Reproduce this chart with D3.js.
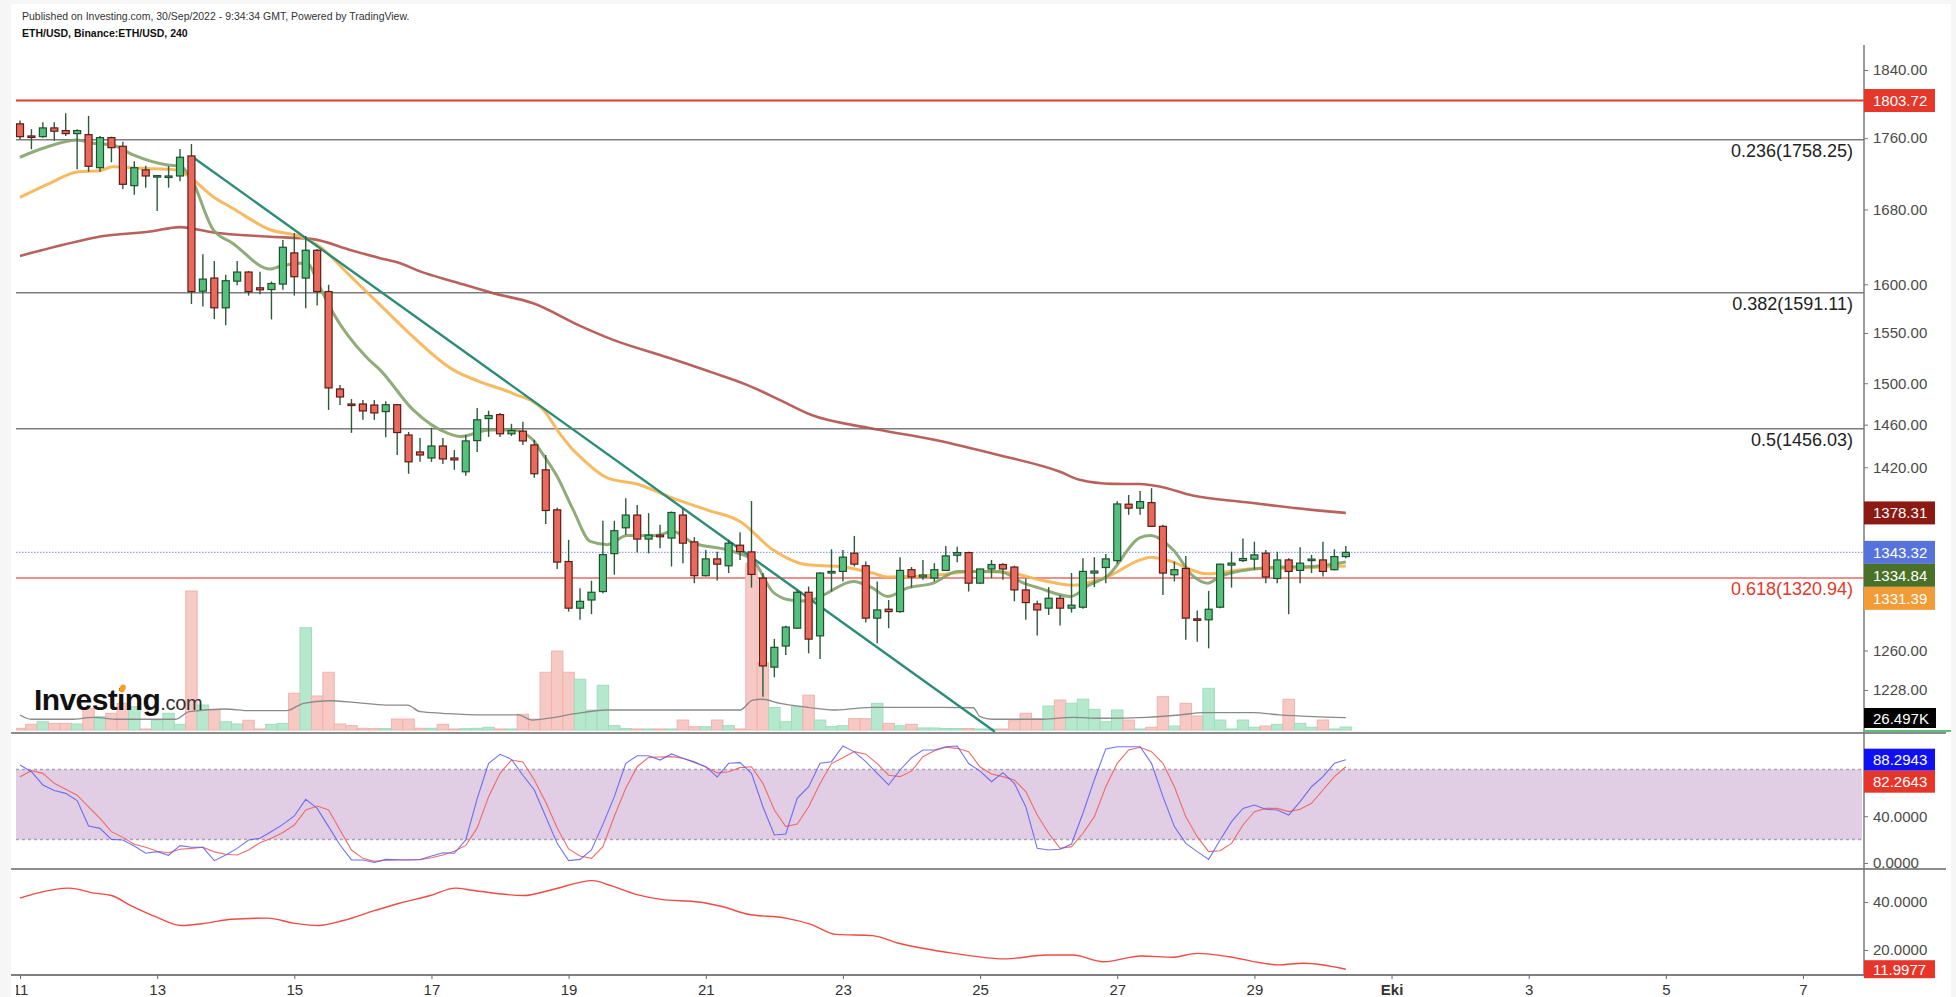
<!DOCTYPE html>
<html><head><meta charset="utf-8">
<script src="https://cdn.jsdelivr.net/npm/d3@7"></script>
<style>
html,body{margin:0;padding:0;background:#f6f6f6;}
svg{display:block;}
text{font-family:"Liberation Sans",Arial,sans-serif;}
</style></head><body><svg id="c" width="1956" height="997"></svg>
<script>
// ---------------- DATA ----------------
const opens=[1776.5,1762.5,1761.7,1771.8,1768.7,1765.2,1764.0,1726.4,1760.6,1750.7,
1706.3,1723.9,1716.9,1715.4,1717.1,1739.7,1592.8,1606.5,1575.6,1603.3,
1612.8,1596.3,1594.5,1600.2,1633.1,1606.5,1635.9,1592.4,1494.4,1479.8,
1479.8,1478.8,1472.5,1479.1,1450.2,1434.2,1428.6,1439.8,1428.6,1415.8,
1444.9,1465.8,1469.6,1451.3,1453.8,1440.8,1417.6,1381.1,1335.3,1295.3,
1302.2,1309.4,1342.2,1365.0,1376.4,1355.0,1358.5,1355.9,1376.4,1352.5,
1323.0,1337.6,1331.6,1349.6,1343.7,1320.9,1246.4,1263.7,1278.5,1308.8,
1272.1,1325.3,1326.7,1342.6,1331.6,1286.9,1294.4,1292.4,1328.2,1321.9,
1321.0,1327.6,1340.8,1343.1,1316.6,1328.8,1332.7,1330.5,1310.8,1298.9,
1295.3,1303.7,1295.3,1296.1,1325.3,1330.1,1336.1,1386.2,1382.6,1387.6,
1366.3,1323.8,1329.3,1286.3,1285.5,1296.1,1332.2,1336.1,1337.4,1342.6,
1320.6,1336.7,1327.6,1336.1,1336.7,1328.2,1339.6];
const highs=[1780.3,1770.3,1778.4,1778.4,1788.9,1770.3,1785.7,1762.5,1761.7,1756.0,
1733.6,1728.7,1718.2,1728.3,1747.6,1753.3,1631.7,1624.4,1610.0,1624.4,
1614.0,1613.1,1602.9,1647.0,1654.3,1651.3,1637.3,1599.5,1498.3,1484.6,
1483.6,1483.6,1482.4,1479.8,1453.1,1447.4,1457.0,1447.4,1436.0,1450.2,
1476.0,1473.4,1471.2,1460.8,1462.7,1445.5,1431.4,1382.9,1354.3,1312.3,
1318.6,1371.3,1371.3,1391.6,1385.5,1378.1,1367.8,1379.6,1382.6,1356.7,
1345.4,1343.9,1354.3,1361.0,1389.1,1325.3,1269.6,1280.5,1310.8,1313.7,
1325.9,1346.0,1345.4,1357.8,1335.3,1318.1,1302.2,1339.1,1330.5,1336.7,
1333.9,1348.9,1348.3,1343.9,1329.1,1336.7,1333.9,1331.6,1320.5,1301.6,
1313.2,1306.3,1325.3,1338.2,1339.1,1341.9,1388.8,1394.5,1398.2,1400.7,
1367.8,1335.3,1340.2,1293.3,1310.0,1333.3,1343.9,1355.4,1352.7,1345.4,
1343.9,1338.2,1347.7,1341.1,1352.7,1346.0,1348.9];
const lows=[1758.7,1747.3,1760.6,1757.1,1762.5,1724.6,1721.9,1721.9,1732.5,1702.6,
1696.3,1704.1,1678.2,1704.1,1711.2,1579.6,1576.9,1564.1,1557.9,1599.1,
1588.2,1589.7,1563.7,1594.2,1588.2,1575.2,1577.9,1474.1,1478.8,1452.2,
1464.6,1464.6,1448.1,1431.4,1414.0,1425.0,1425.0,1423.1,1417.6,1412.1,
1434.2,1448.4,1448.4,1449.3,1440.8,1410.3,1368.3,1328.9,1292.4,1285.5,
1290.2,1308.0,1323.8,1358.8,1343.1,1342.5,1346.9,1331.0,1333.9,1316.6,
1322.3,1318.9,1325.3,1336.7,1312.8,1222.6,1238.2,1256.4,1278.0,1257.7,
1253.1,1309.4,1318.1,1331.0,1283.2,1266.0,1278.5,1291.5,1312.8,1319.5,
1318.1,1327.0,1334.6,1309.4,1316.0,1321.0,1319.5,1301.1,1285.5,1272.4,
1289.6,1280.7,1291.6,1294.8,1313.2,1316.6,1333.3,1376.6,1376.6,1365.7,
1306.5,1318.1,1268.8,1267.3,1261.8,1295.3,1312.8,1334.9,1328.2,1316.6,
1316.6,1290.2,1316.6,1325.3,1322.3,1327.6,1338.2];
const closes=[1761.7,1762.0,1771.8,1768.0,1765.2,1768.7,1728.0,1760.6,1749.1,1707.8,
1726.4,1717.1,1717.5,1717.1,1738.2,1592.4,1605.4,1575.6,1603.7,1612.8,
1592.4,1594.2,1600.8,1639.1,1607.9,1635.9,1592.4,1495.4,1486.6,1478.8,
1473.1,1471.2,1479.1,1452.5,1425.0,1431.4,1439.8,1427.7,1426.8,1444.6,
1464.6,1468.7,1451.3,1454.4,1444.6,1414.0,1380.5,1334.8,1295.3,1301.1,
1308.8,1341.3,1362.4,1376.4,1355.0,1358.5,1357.0,1378.7,1351.4,1323.0,
1337.6,1333.0,1351.4,1343.9,1324.1,1247.4,1262.6,1279.4,1308.8,1269.4,
1325.3,1326.7,1339.1,1333.0,1286.9,1293.8,1292.4,1327.6,1321.9,1323.6,
1328.2,1340.2,1343.1,1316.6,1328.8,1332.7,1328.8,1310.8,1300.0,1293.8,
1303.7,1295.3,1297.8,1326.7,1327.0,1337.6,1386.4,1382.6,1388.5,1366.3,
1325.3,1328.2,1286.9,1285.2,1294.4,1333.0,1333.9,1337.9,1341.1,1321.9,
1336.7,1326.7,1333.9,1337.4,1326.7,1339.6,1343.32];
// volume, thousands
const volumes=[15,50,73,59,59,53,192,118,148,236,
206,9,88,148,50,1230,221,177,73,53,
86,9,50,59,325,905,301,511,53,38,
15,12,12,97,97,15,15,50,9,12,
15,24,9,9,139,97,511,699,511,449,
177,396,38,12,9,9,9,9,88,29,
29,88,38,9,1475,596,199,73,206,308,
88,29,38,100,100,236,59,37,50,18,
18,13,13,13,9,9,9,82,148,100,
212,265,236,273,183,73,177,88,9,24,
295,35,236,124,369,88,9,88,24,35,
50,272,59,24,88,9,26.497];
const volMaBars=[0,1,4.5,6.4,8.6,10.8,13.6,14.8,17.9,20.1,23.3,24.8,27,29.5,32,33.9,35,37,40.4,43.6,44.8,46.5,48.4,51.4,63,64.1,64.9,66.5,68.9,71.1,73.2,74.6,80.5,83.4,84,85.1,89.2,92.1,94.5,98.6,101.5,103.5,107.9,110.2,113.1,116];
const volMaVals=[133,95,95,112,95,95,95,162,186,171,171,236,259,242,221,221,162,148,133,133,88,108,142,177,177,265,272,236,201,177,192,201,201,197,118,95,95,112,104,112,133,153,153,133,118,109];
// moving averages (read at sample bars)
const maFastBars=[0,2,5,6.4,8.1,9.9,12.9,14,14.9,16.9,18.6,21.9,22.7,25.1,26.2,27.4,30.4,31.5,34.4,37.4,38.5,41.1,43.1,44.9,45.5,47,48.4,49.9,51.4,53.1,55.7,57.1,58.9,61.9,64.1,65.9,67.4,68.9,70.3,72.9,74.6,75.9,77.6,79.9,82,85.7,87.8,89.2,91.9,93.6,95.1,98,98.9,100.9,102.6,103.9,105,107.9,110.2,113.1,116];
const maFastVals=[1738.2,1748.4,1757.9,1754.1,1752.2,1740.8,1729.5,1728.4,1716.0,1658.0,1643.5,1616.0,1618.7,1622.3,1597.7,1570.2,1524.6,1513.1,1474.1,1451.9,1448.7,1455.0,1455.0,1445.5,1436.0,1411.5,1381.1,1353.0,1350.1,1358.1,1358.1,1362.0,1351.6,1345.4,1336.7,1308.8,1302.2,1301.3,1306.5,1318.1,1312.3,1305.2,1312.3,1316.6,1326.7,1326.7,1316.6,1312.3,1305.2,1315.2,1322.3,1356.2,1358.1,1345.4,1323.0,1316.6,1322.3,1328.7,1330.5,1331.0,1334.84];
const maMidBars=[0,2.6,5.1,7,8.1,10.5,13.7,14.6,16.9,18.6,21.9,24.5,26.2,28.9,31.5,33.9,37.9,40.2,43.1,45.8,47.2,48.4,49.3,51.4,54.2,57.1,60.1,63,65.9,68.9,71.7,74.6,75.9,80.5,83.4,86.4,89.2,92.1,95.1,98,98.9,100.3,103.9,107.3,110.2,113.1,116];
const maMidVals=[1693.4,1708.9,1721.9,1723.0,1727.5,1725.7,1723.9,1718.2,1694.1,1681.4,1657.9,1650.7,1639.8,1608.6,1578.6,1551.4,1513.1,1501.6,1490.2,1474.1,1452.0,1436.0,1426.8,1410.1,1403.9,1391.6,1381.1,1370.6,1345.4,1332.4,1331.0,1325.3,1321.9,1323.8,1326.7,1325.8,1319.5,1314.8,1321.9,1336.7,1339.1,1336.7,1324.6,1328.7,1329.5,1330.0,1331.39];
const maSlowBars=[0,5,7,11.4,14,16.9,21.6,25.6,28.9,31.5,33.2,35,37.9,41.4,44.9,49,51.9,56.3,60.6,63.6,66.5,69.2,74.2,80.1,85.6,91,92.7,95.6,98,99.7,102.6,107.3,110.2,113.7,116];
const maSlowVals=[1629.9,1645.2,1650.6,1656.0,1660.8,1655.0,1650.6,1647.8,1636.2,1627.5,1622.3,1613.5,1603.0,1590.7,1580.3,1557.2,1543.0,1526.7,1510.4,1498.4,1483.6,1469.4,1457.0,1445.5,1431.4,1415.8,1408.4,1404.7,1404.5,1402.3,1394.0,1387.9,1384.3,1380.4,1378.31];
// trend line endpoints
const trendBars=[15.16,85.3];
const trendVals=[1738,1195];
// horizontal levels
const topLevel=1803.72;
const fibNames=["0.236","0.382","0.5","0.618"];
const fibVals=[1758.25,1591.11,1456.03,1320.94];
const lastPrice=1343.32;
// stochastic
const stochK=[83.8,78.0,66.7,62.0,59.5,53.3,31.6,29.6,20.2,19.7,
14.5,8.3,9.7,6.6,14.8,13.4,13.4,2.0,6.8,12.5,
19.7,21.1,27.0,33.0,40.2,54.4,46.7,31.1,15.4,2.6,
2.6,0.5,3.1,2.8,2.6,3.0,6.0,8.8,8.3,19.7,
55.0,85.2,92.9,88.6,75.0,62.4,39.6,16.8,2.0,3.1,
11.1,33.0,56.7,85.2,91.7,91.7,88.0,93.2,89.5,86.0,
82.3,73.5,85.2,85.8,76.6,48.1,23.9,24.8,55.3,65.2,
85.2,86.6,100,95.0,86.6,76.6,66.7,79.5,90.0,96.6,
96.6,99.4,100,85.0,78.5,69.5,77.2,68.1,48.1,12.5,
11.1,11.7,16.2,42.5,71.2,97.5,99.4,99.4,99.4,85.2,
56.7,31.1,16.8,9.7,3.1,19.7,35.3,46.7,49.6,45.9,
45.3,41.0,52.4,65.2,73.8,85.2,88.2943];
const stochD=[73.8,78.9,76.6,68.1,63.0,58.0,48.0,38.2,26.8,21.9,
16.0,13.4,10.0,8.8,11.7,12.5,13.4,9.5,7.5,6.8,
11.1,17.4,21.1,26.0,32.5,45.3,48.7,45.3,28.2,11.1,
4.0,1.4,2.3,2.6,2.8,2.8,4.5,6.8,10.0,15.0,
30.0,56.7,76.6,88.0,86.3,70.9,52.0,30.0,12.0,6.0,
4.0,14.0,40.0,63.8,82.3,90.3,90.6,90.9,89.5,86.5,
82.0,77.0,78.0,81.5,82.3,68.1,45.3,31.1,33.3,48.0,
68.0,85.0,90.0,95.2,93.0,85.0,75.0,73.8,78.5,90.9,
96.0,98.9,98.0,95.2,82.0,76.0,73.8,70.9,61.0,41.0,
25.4,12.5,14.0,25.4,39.6,65.2,85.2,96.6,98.9,95.2,
85.2,65.2,39.6,22.5,9.7,10.5,16.8,32.5,43.9,46.7,
46.7,43.9,45.9,51.0,62.4,73.8,82.2643];
// lower indicator
const lowBars=[0,1.5,4.3,6.5,8,9.7,11.9,14.1,16.3,18.5,21.7,23.9,26.1,28.3,31,33.2,35.9,38.1,39.7,44.1,46.3,50.1,51.7,53.9,56.1,59.4,61.5,63.7,67,69.2,71.4,74.6,76.8,81.7,86.1,89.9,92.1,94.8,98.1,100.9,103,105.8,108.5,110.1,112.3,116];
const lowVals=[41.6,43.7,45.8,43.7,42.7,38.5,33.8,30.2,31.2,32.8,33.3,31.2,30.2,32.3,36.4,39.5,42.7,45.8,44.8,42.7,44.8,48.9,46.8,43.2,41.1,40.0,38.0,34.9,33.3,30.7,26.5,26.0,22.9,18.6,16.3,17.9,17.9,15.1,17.5,17.0,18.6,17.2,14.7,13.8,14.5,11.9977];
// axis ticks
const priceTicks=[1840,1760,1680,1600,1550,1500,1460,1420,1260,1228];
const stochTicks=[40,0];
const lowTicks=[40,20];
const dateTickLabels=["11","13","15","17","19","21","23","25","27","29","Eki","3","5","7"];

// ---------------- CHART ----------------
const svg=d3.select('#c');
const L=11,AX=1864,PT=45,PB=733,SB=869,LB=975;
const t0=Date.UTC(2022,8,11);
const barTime=i=>new Date(t0+i*4*3600e3);
const x=d3.scaleUtc().domain([new Date(Date.UTC(2022,8,11)),new Date(Date.UTC(2022,9,7))]).range([20,1803]);
const bx=i=>x(barTime(i));
const y=d3.scaleLog().domain([1194,1870.25]).range([PB,PT]);
const yv=d3.scaleLinear().domain([0,1600]).range([730,549.2]);
const ys=d3.scaleLinear().domain([0,100]).range([863,746]);
const yl=d3.scaleLinear().domain([0,40]).range([998,902]);

svg.append('rect').attr('x',L).attr('y',4).attr('width',1951-L).attr('height',993).attr('fill','#fff');

const defs=svg.append('defs');
defs.append('clipPath').attr('id','cp').append('rect').attr('x',16).attr('y',PT).attr('width',AX-16).attr('height',PB-PT);
defs.append('clipPath').attr('id','cs').append('rect').attr('x',16).attr('y',PB+1).attr('width',AX-16).attr('height',SB-PB-2);
defs.append('clipPath').attr('id','cl').append('rect').attr('x',16).attr('y',SB+1).attr('width',AX-16).attr('height',LB-SB-2);
defs.append('clipPath').attr('id','cx').append('rect').attr('x',16).attr('y',LB).attr('width',1935).attr('height',30);

// header
svg.append('text').attr('x',22).attr('y',20).attr('font-size',10.5).attr('fill','#333')
  .text('Published on Investing.com, 30/Sep/2022 - 9:34:34 GMT, Powered by TradingView.');
svg.append('text').attr('x',22).attr('y',37).attr('font-size',10.5).attr('font-weight','bold').attr('fill','#111')
  .text('ETH/USD, Binance:ETH/USD, 240');

const P=svg.append('g').attr('clip-path','url(#cp)');

// horizontal levels
P.append('line').attr('x1',16).attr('x2',AX).attr('y1',y(topLevel)).attr('y2',y(topLevel)).attr('stroke','#e5372a').attr('stroke-width',2);
fibVals.forEach((v,k)=>{
  P.append('line').attr('x1',16).attr('x2',AX).attr('y1',y(v)).attr('y2',y(v))
    .attr('stroke',k===3?'#f28e8a':'#7d7d7d').attr('stroke-width',k===3?2:1.5);
});
P.append('line').attr('x1',16).attr('x2',AX).attr('y1',y(lastPrice)).attr('y2',y(lastPrice))
  .attr('stroke','#8da2f2').attr('stroke-width',1.2).attr('stroke-dasharray','1.5,1.5');

// volume
const bw=bx(1)-bx(0);
const up=i=>closes[i]>=opens[i];
P.append('g').selectAll('rect').data(d3.range(volumes.length)).join('rect')
  .attr('x',i=>bx(i)-bw/2).attr('width',bw)
  .attr('y',i=>yv(volumes[i])).attr('height',i=>yv(0)-yv(volumes[i]))
  .attr('fill',i=>up(i)?'#b5e8cd':'#f6c9c5')
  .attr('stroke',i=>up(i)?'#a0dcbc':'#f0b3ad').attr('stroke-width',1);
P.append('path').datum(volMaBars.map((b,k)=>[b,volMaVals[k]]))
  .attr('d',d3.line().x(d=>bx(d[0])).y(d=>yv(d[1])).curve(d3.curveMonotoneX))
  .attr('fill','none').attr('stroke','#8a8a8a').attr('stroke-width',1.3);

// logo
const logo=svg.append('text').attr('x',34).attr('y',710).attr('font-size',30).attr('font-weight','bold')
  .attr('fill','#111').attr('letter-spacing',-0.6);
logo.append('tspan').text('Investing');
logo.append('tspan').attr('font-size',20).attr('font-weight','normal').attr('fill','#333').attr('letter-spacing',-0.3).text('.com');
svg.append('ellipse').attr('cx',122.5).attr('cy',688.5).attr('rx',3).attr('ry',4).attr('fill','#f39c1f').attr('transform','rotate(25,122.5,688.5)');

// moving averages
const maLine=d3.line().x(d=>bx(d[0])).y(d=>y(d[1])).curve(d3.curveMonotoneX);
P.append('path').datum(maSlowBars.map((b,k)=>[b,maSlowVals[k]])).attr('d',maLine)
  .attr('fill','none').attr('stroke','#b0504b').attr('stroke-width',2.6).attr('opacity',0.9);
P.append('path').datum(maMidBars.map((b,k)=>[b,maMidVals[k]])).attr('d',maLine)
  .attr('fill','none').attr('stroke','#f6b24f').attr('stroke-width',3).attr('opacity',0.9);
P.append('path').datum(maFastBars.map((b,k)=>[b,maFastVals[k]])).attr('d',maLine)
  .attr('fill','none').attr('stroke','#83a36b').attr('stroke-width',3).attr('opacity',0.9);

// trend line
P.append('line').attr('x1',bx(trendBars[0])).attr('y1',y(trendVals[0])).attr('x2',bx(trendBars[1])).attr('y2',y(trendVals[1]))
  .attr('stroke','#2b8c77').attr('stroke-width',2.4);

// candles
const cg=P.append('g');
const idx=d3.range(opens.length);
cg.selectAll('line').data(idx).join('line')
  .attr('x1',i=>bx(i)).attr('x2',i=>bx(i)).attr('y1',i=>y(highs[i])).attr('y2',i=>y(lows[i]))
  .attr('stroke','#2d5a3b').attr('stroke-width',1.4);
cg.selectAll('rect').data(idx).join('rect')
  .attr('x',i=>bx(i)-3.5).attr('width',7)
  .attr('y',i=>y(Math.max(opens[i],closes[i])))
  .attr('height',i=>Math.max(1.5,Math.abs(y(opens[i])-y(closes[i]))))
  .attr('fill',i=>up(i)?'#55c07b':'#e9695d')
  .attr('stroke',i=>up(i)?'#1f4f2f':'#5c1d17').attr('stroke-width',1.2);

// fib labels
fibVals.forEach((v,k)=>{
  svg.append('text').attr('x',1853).attr('y',y(v)+17).attr('text-anchor','end')
    .attr('font-family','"DejaVu Sans Mono",monospace').attr('font-size',18)
    .attr('fill',k===3?'#e5372a':'#222').text(fibNames[k]+'('+v.toFixed(2)+')');
});

// stochastic panel
const S=svg.append('g').attr('clip-path','url(#cs)');
S.append('rect').attr('x',16).attr('width',AX-2-16).attr('y',ys(80)).attr('height',ys(20)-ys(80)).attr('fill','#e1cde4');
[80,20].forEach(v=>S.append('line').attr('x1',16).attr('x2',AX-2).attr('y1',ys(v)).attr('y2',ys(v))
  .attr('stroke','#aaa3b3').attr('stroke-width',1.5).attr('stroke-dasharray','3,3'));
const sl=d3.line().x((d,i)=>bx(i)).y(d=>ys(d));
S.append('path').datum(stochD).attr('d',sl).attr('fill','none').attr('stroke','#ef6b6b').attr('stroke-width',1.1);
S.append('path').datum(stochK).attr('d',sl).attr('fill','none').attr('stroke','#5b5bf2').attr('stroke-width',1.1).attr('opacity',0.85);

// lower panel
const LG=svg.append('g').attr('clip-path','url(#cl)');
LG.append('path').datum(lowBars.map((b,k)=>[b,lowVals[k]]))
  .attr('d',d3.line().x(d=>bx(d[0])).y(d=>yl(d[1])).curve(d3.curveMonotoneX))
  .attr('fill','none').attr('stroke','#f04a45').attr('stroke-width',1.4);

// separators and axes
svg.append('line').attr('x1',L).attr('x2',1946).attr('y1',PB).attr('y2',PB).attr('stroke','#666').attr('stroke-width',1.5);
svg.append('line').attr('x1',L).attr('x2',1946).attr('y1',SB).attr('y2',SB).attr('stroke','#666').attr('stroke-width',1.5);
svg.append('line').attr('x1',L).attr('x2',AX).attr('y1',LB).attr('y2',LB).attr('stroke','#555').attr('stroke-width',1.5);
svg.append('line').attr('x1',AX).attr('x2',AX).attr('y1',PT).attr('y2',LB).attr('stroke','#7a7a7a').attr('stroke-width',1.5);

// right axes
const ax1=svg.append('g').attr('transform',`translate(${AX},0)`)
  .call(d3.axisRight(y).tickValues(priceTicks).tickFormat(d3.format('.2f')).tickSize(4).tickPadding(5));
const ax2=svg.append('g').attr('transform',`translate(${AX},0)`)
  .call(d3.axisRight(ys).tickValues(stochTicks).tickFormat(d3.format('.4f')).tickSize(4).tickPadding(5));
const ax3=svg.append('g').attr('transform',`translate(${AX},0)`)
  .call(d3.axisRight(yl).tickValues(lowTicks).tickFormat(d3.format('.4f')).tickSize(4).tickPadding(5));
[ax1,ax2,ax3].forEach(a=>{
  a.select('.domain').remove();
  a.selectAll('line').attr('stroke','#777');
  a.selectAll('text').attr('font-size',15).attr('fill','#4a4a4a').attr('font-family','"Liberation Sans",Arial,sans-serif');
});

// bottom axis
const xt=d3.range(dateTickLabels.length).map(k=>new Date(Date.UTC(2022,8,11+2*k)));
const xwrap=svg.append('g').attr('clip-path','url(#cx)');
const xa=xwrap.append('g').attr('transform',`translate(0,${LB})`)
  .call(d3.axisBottom(x).tickValues(xt).tickFormat((d,k)=>dateTickLabels[k]).tickSize(4).tickPadding(5));
xa.select('.domain').remove();
xa.selectAll('line').attr('stroke','#666');
xa.selectAll('text').attr('font-size',15).attr('fill','#333').attr('font-family','"Liberation Sans",Arial,sans-serif')
  .attr('font-weight',(d,k)=>dateTickLabels[k]==='Eki'?'bold':'normal');

// value labels on right axis
function stack(items,h){
  items.sort((a,b)=>a.y-b.y);
  for(let k=1;k<items.length;k++){ if(items[k].y<items[k-1].y+h) items[k].y=items[k-1].y+h; }
  return items;
}
const priceLabels=stack([
  {v:topLevel,y:y(topLevel),c:'#e5372a'},
  {v:maSlowVals[maSlowVals.length-1],y:y(maSlowVals[maSlowVals.length-1]),c:'#8c1a12'},
  {v:lastPrice,y:y(lastPrice),c:'#5673dc'},
  {v:maFastVals[maFastVals.length-1],y:y(maFastVals[maFastVals.length-1]),c:'#4a7128'},
  {v:maMidVals[maMidVals.length-1],y:y(maMidVals[maMidVals.length-1]),c:'#f29c38'}
],23);
const stochLabels=stack([
  {v:stochK[stochK.length-1],y:ys(stochK[stochK.length-1]),c:'#1010f5',f:'.4f'},
  {v:stochD[stochD.length-1],y:ys(stochD[stochD.length-1]),c:'#e8352a',f:'.4f'}
],22);
const lowLabel=[{v:lowVals[lowVals.length-1],y:yl(lowVals[lowVals.length-1]),c:'#e8352a',f:'.4f'}];
function drawLabels(arr,h){
  arr.forEach(o=>{
    svg.append('rect').attr('x',AX).attr('y',o.y-h/2).attr('width',71).attr('height',h).attr('fill',o.c);
    svg.append('text').attr('x',AX+9).attr('y',o.y+5.5).attr('font-size',15).attr('fill','#fff')
      .text(d3.format(o.f||'.2f')(o.v));
  });
}
drawLabels(priceLabels,23);
drawLabels(stochLabels,22);
drawLabels(lowLabel,18);
// volume label
const lastVol=volumes[volumes.length-1];
const vly=Math.min(yv(lastVol),718);
svg.append('rect').attr('x',AX).attr('y',vly-10).attr('width',72).attr('height',20).attr('fill','#000');
svg.append('text').attr('x',AX+9).attr('y',vly+5.5).attr('font-size',15).attr('fill','#fff').text(d3.format('.3f')(lastVol)+'K');
svg.append('line').attr('x1',AX).attr('x2',1951).attr('y1',731).attr('y2',731).attr('stroke','#5cbf7c').attr('stroke-width',2);
</script></body></html>
